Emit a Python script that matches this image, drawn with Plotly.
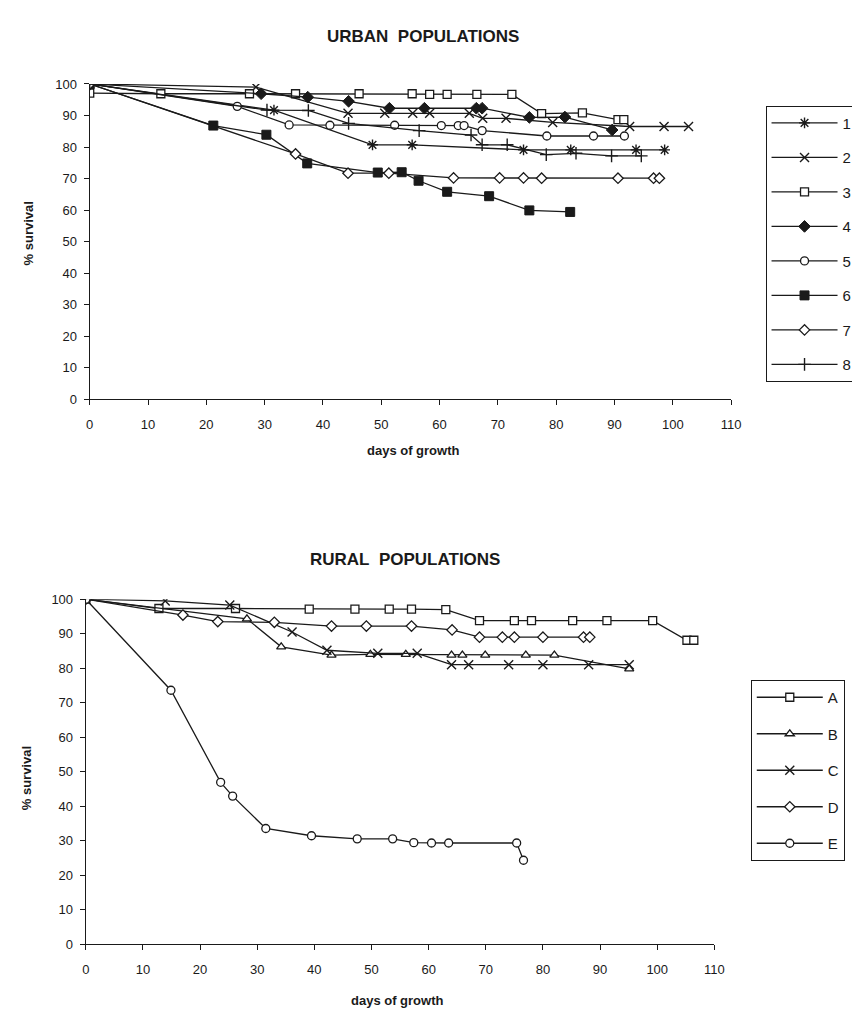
import plotly.graph_objects as go

# ---------------- URBAN data (days, % survival) ----------------
u1_x = [0, 31.6, 48.5, 55.3, 74.4, 82.5, 93.7, 98.6]
u1_y = [100, 91.7, 80.7, 80.7, 79.1, 79.1, 79.1, 79.1]
u2_x = [0, 28.5, 44.3, 50.6, 55.4, 58.3, 65.1, 67.4, 71.4, 79.4, 92.6, 98.5, 102.7]
u2_y = [100, 99.0, 90.7, 90.7, 90.7, 90.7, 90.7, 89.1, 89.1, 87.8, 86.5, 86.5, 86.5]
u3_x = [0, 12.2, 27.4, 35.3, 46.2, 55.3, 58.3, 61.3, 66.4, 72.4, 77.5, 84.5, 90.6, 91.6]
u3_y = [97.1, 96.9, 96.9, 96.9, 96.9, 96.9, 96.7, 96.7, 96.7, 96.7, 90.6, 90.8, 88.7, 88.7]
u4_x = [0, 29.4, 37.4, 44.4, 51.4, 57.4, 66.3, 67.3, 75.4, 81.5, 89.6]
u4_y = [100, 96.9, 95.8, 94.5, 92.3, 92.3, 92.3, 92.3, 89.4, 89.5, 85.4]
u5_x = [0, 25.3, 34.2, 41.2, 52.3, 60.3, 63.2, 64.2, 67.3, 78.4, 86.4, 91.7]
u5_y = [100, 92.9, 87.0, 86.9, 86.9, 86.8, 86.8, 86.8, 85.2, 83.5, 83.5, 83.5]
u6_x = [0, 21.2, 30.3, 37.3, 49.4, 53.5, 56.4, 61.3, 68.5, 75.4, 82.4]
u6_y = [100, 86.8, 83.9, 74.8, 71.9, 72.0, 69.3, 65.8, 64.4, 59.9, 59.4]
u7_x = [0, 35.3, 44.3, 51.3, 62.4, 70.3, 74.4, 77.5, 90.6, 96.7, 97.7]
u7_y = [100, 77.8, 71.7, 71.7, 70.2, 70.2, 70.2, 70.1, 70.1, 70.1, 70.1]
u8_x = [0, 30.4, 37.5, 44.4, 56.5, 65.4, 67.3, 71.6, 78.3, 83.4, 89.5, 94.6]
u8_y = [100, 91.7, 91.6, 87.5, 85.2, 83.8, 80.7, 80.7, 77.6, 78.0, 77.2, 77.2]
urban_names = ["1", "2", "3", "4", "5", "6", "7", "8"]
urban_symbols = ["asterisk-open", "x-thin-open", "square", "diamond",
                 "circle", "square", "diamond", "cross-thin-open"]
urban_fill = ["line", "line", "white", "black", "white", "black", "white", "line"]

# ---------------- RURAL data ----------------
rA_x = [0, 12.8, 26.2, 39.1, 47.1, 53.1, 57.0, 63.0, 68.9, 75.0, 78.0, 85.2, 91.2, 99.2, 105.2, 106.4]
rA_y = [100, 97.3, 97.3, 97.1, 97.1, 97.1, 97.1, 97.0, 93.8, 93.8, 93.8, 93.8, 93.8, 93.8, 88.1, 88.1]
rB_x = [0, 28.2, 34.2, 43.0, 49.8, 56.0, 64.0, 65.9, 69.9, 77.0, 82.0, 95.1]
rB_y = [100, 94.3, 86.2, 83.8, 84.0, 84.0, 83.8, 83.8, 83.8, 83.8, 83.8, 79.8]
rC_x = [0, 13.9, 25.2, 36.1, 42.2, 51.1, 58.0, 64.0, 67.0, 74.0, 80.0, 88.0, 95.1]
rC_y = [100, 99.5, 98.3, 90.5, 85.2, 84.3, 84.3, 81.0, 81.0, 81.0, 81.0, 81.0, 81.0]
rD_x = [0, 17.0, 23.1, 33.0, 43.0, 49.1, 57.0, 64.1, 68.9, 72.9, 75.0, 80.0, 87.1, 88.2]
rD_y = [100, 95.4, 93.5, 93.3, 92.2, 92.2, 92.2, 91.1, 89.0, 89.0, 89.0, 89.0, 89.0, 89.0]
rE_x = [0, 14.9, 23.6, 25.7, 31.5, 39.5, 47.5, 53.7, 57.4, 60.5, 63.5, 75.4, 76.6]
rE_y = [100, 73.6, 46.9, 42.9, 33.5, 31.4, 30.5, 30.5, 29.4, 29.3, 29.3, 29.3, 24.3]
rural_names = ["A", "B", "C", "D", "E"]
rural_symbols = ["square", "triangle-up", "x-thin-open", "diamond", "circle"]
rural_fill = ["white", "white", "line", "white", "white"]

x_ticks = list(range(0, 111, 10))
y_ticks = list(range(0, 101, 10))

W, H = 860, 1012
def px(x):
    return x / W
def py(y):
    return 1 - y / H

INK = "#1a1a1a"
fig = go.Figure()

def marker_style(sym, fill):
    if fill == "line":
        return dict(symbol=sym, size=9, color=INK, line=dict(color=INK, width=1.4))
    if fill == "black":
        return dict(symbol=sym, size=9, color=INK, line=dict(color=INK, width=1))
    return dict(symbol=sym, size=8, color="white", line=dict(color=INK, width=1.3))

urban = [(u1_x, u1_y), (u2_x, u2_y), (u3_x, u3_y), (u4_x, u4_y),
         (u5_x, u5_y), (u6_x, u6_y), (u7_x, u7_y), (u8_x, u8_y)]
for (xs, ys), nm, sym, fl in zip(urban, urban_names, urban_symbols, urban_fill):
    fig.add_trace(go.Scatter(
        x=xs, y=ys, name=nm, mode="lines+markers", xaxis="x", yaxis="y",
        legend="legend", legendgroup="u" + nm,
        line=dict(color=INK, width=1.3),
        marker=marker_style(sym, fl),
    ))

rural = [(rA_x, rA_y), (rB_x, rB_y), (rC_x, rC_y), (rD_x, rD_y), (rE_x, rE_y)]
for (xs, ys), nm, sym, fl in zip(rural, rural_names, rural_symbols, rural_fill):
    fig.add_trace(go.Scatter(
        x=xs, y=ys, name=nm, mode="lines+markers", xaxis="x2", yaxis="y2",
        legend="legend2", legendgroup="r" + nm,
        line=dict(color=INK, width=1.3),
        marker=marker_style(sym, fl),
    ))

tickfont = dict(family="Liberation Sans, Arial, sans-serif", size=13, color=INK)
axis_common = dict(showgrid=False, zeroline=False, showline=True, linecolor=INK,
                   linewidth=1.2, ticks="outside", ticklen=5, tickcolor=INK,
                   tickfont=tickfont, fixedrange=True)

fig.update_layout(
    xaxis=dict(domain=[px(79), px(731)], range=[0, 110], tickvals=x_ticks,
               anchor="y", ticklabelstandoff=8, **axis_common),
    yaxis=dict(domain=[py(390), py(70)], range=[0, 100], tickvals=y_ticks,
               anchor="x", ticklabelstandoff=4, **axis_common),
    xaxis2=dict(domain=[px(75), px(714)], range=[0, 110], tickvals=x_ticks,
                anchor="y2", ticklabelstandoff=8, **axis_common),
    yaxis2=dict(domain=[py(943), py(593)], range=[0, 100], tickvals=y_ticks,
                anchor="x2", ticklabelstandoff=4, **axis_common),
)

legfont = dict(family="Liberation Sans, Arial, sans-serif", size=15, color=INK)
fig.update_layout(
    legend=dict(x=px(766), y=py(92), xanchor="left", yanchor="top",
                bordercolor=INK, borderwidth=1, bgcolor="white",
                font=legfont, tracegroupgap=12, itemwidth=66,
                traceorder="grouped"),
    legend2=dict(x=px(751), y=py(675), xanchor="left", yanchor="top",
                 bordercolor=INK, borderwidth=1, bgcolor="white",
                 font=legfont, tracegroupgap=14, itemwidth=66,
                 traceorder="grouped"),
)

title_font = dict(family="Liberation Sans, Arial, sans-serif", size=17, color=INK)
lab_font = dict(family="Liberation Sans, Arial, sans-serif", size=13, color=INK)
annos = [
    dict(text="<b>URBAN\u00a0\u00a0POPULATIONS</b>", x=px(418), y=py(22), font=title_font),
    dict(text="<b>RURAL\u00a0\u00a0POPULATIONS</b>", x=px(400), y=py(553), font=title_font),
    dict(text="<b>days of growth</b>", x=px(408), y=py(442), font=lab_font),
    dict(text="<b>days of growth</b>", x=px(392), y=py(1000), font=lab_font),
    dict(text="<b>% survival</b>", x=px(17), y=py(222), font=lab_font, textangle=-90),
    dict(text="<b>% survival</b>", x=px(15), y=py(775), font=lab_font, textangle=-90),
]
for a in annos:
    a.update(xref="paper", yref="paper", showarrow=False, xanchor="center", yanchor="middle")
fig.update_layout(annotations=annos)

fig.update_layout(width=W, height=H, margin=dict(l=0, r=0, t=0, b=0),
                  paper_bgcolor="white", plot_bgcolor="white", showlegend=True)

fig.write_html("out.html")
